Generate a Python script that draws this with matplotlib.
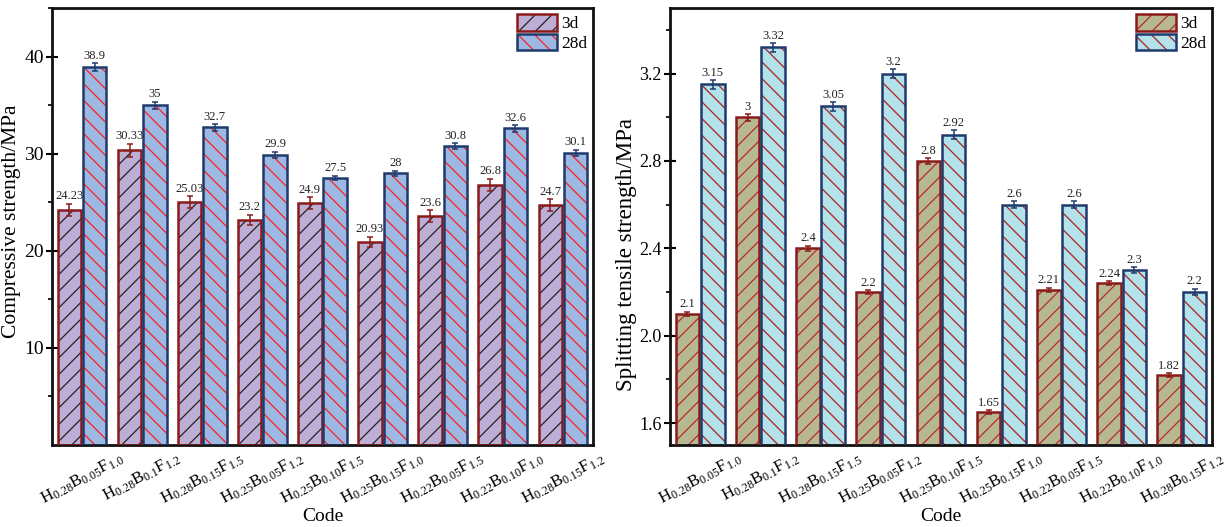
import matplotlib
matplotlib.use("Agg")
import matplotlib.pyplot as plt
from matplotlib.patches import Patch
from matplotlib.legend_handler import HandlerTuple
import numpy as np

plt.rcParams['font.family'] = ['Liberation Serif', 'DejaVu Serif']
plt.rcParams['mathtext.fontset'] = 'custom'
plt.rcParams['mathtext.rm'] = 'Liberation Serif'
plt.rcParams['mathtext.it'] = 'Liberation Serif'
plt.rcParams['mathtext.default'] = 'regular'
plt.rcParams['hatch.linewidth'] = 0.9

codes = [
    "H$_{0.28}$B$_{0.05}$F$_{1.0}$",
    "H$_{0.28}$B$_{0.1}$F$_{1.2}$",
    "H$_{0.28}$B$_{0.15}$F$_{1.5}$",
    "H$_{0.25}$B$_{0.05}$F$_{1.2}$",
    "H$_{0.25}$B$_{0.10}$F$_{1.5}$",
    "H$_{0.25}$B$_{0.15}$F$_{1.0}$",
    "H$_{0.22}$B$_{0.05}$F$_{1.5}$",
    "H$_{0.22}$B$_{0.10}$F$_{1.0}$",
    "H$_{0.28}$B$_{0.15}$F$_{1.2}$",
]

# compressive strength (MPa)
comp_3d = [24.23, 30.33, 25.03, 23.2, 24.9, 20.93, 23.6, 26.8, 24.7]
comp_28d = [38.9, 35, 32.7, 29.9, 27.5, 28, 30.8, 32.6, 30.1]
comp_3d_err = [0.6, 0.7, 0.6, 0.5, 0.6, 0.5, 0.6, 0.6, 0.6]
comp_28d_err = [0.4, 0.35, 0.35, 0.3, 0.25, 0.25, 0.3, 0.35, 0.3]

# splitting tensile strength (MPa)
split_3d = [2.1, 3, 2.4, 2.2, 2.8, 1.65, 2.21, 2.24, 1.82]
split_28d = [3.15, 3.32, 3.05, 3.2, 2.92, 2.6, 2.6, 2.3, 2.2]
split_3d_err = [0.01, 0.015, 0.012, 0.01, 0.012, 0.008, 0.01, 0.01, 0.01]
split_28d_err = [0.02, 0.02, 0.02, 0.02, 0.02, 0.015, 0.015, 0.015, 0.015]

dark_red = '#8b1a1a'
navy = '#1f3b6e'

# (face, outline, hatch colour, hatch)
left_3d = ('#bdaed6', dark_red, '#222222', '//')
left_28d = ('#9db8e2', navy, '#ff2020', '\\\\')
right_3d = ('#b6b891', dark_red, '#b82a2a', '//')
right_28d = ('#b3e2ea', navy, '#b02020', '\\\\')

fig = plt.figure(figsize=(12.25, 5.27), dpi=100)
ax1 = fig.add_axes([52 / 1225, 1 - 445 / 527, (593 - 52) / 1225, (445 - 8) / 527])
ax2 = fig.add_axes([670 / 1225, 1 - 445 / 527, (1212 - 670) / 1225, (445 - 8) / 527])

x = np.arange(len(codes))
w = 0.39
off = 0.21


def bars(ax, pos, vals, errs, style, pad):
    face, edge, hcolor, hatch = style
    # hatch layer, then outline on top
    ax.bar(pos, vals, w, color=face, edgecolor=hcolor, hatch=hatch, linewidth=0, zorder=2)
    ax.bar(pos, vals, w, fill=False, edgecolor=edge, linewidth=1.8, zorder=3)
    ax.errorbar(pos, vals, yerr=errs, fmt='none', ecolor=edge, elinewidth=1.1,
                capsize=2.5, capthick=1.1, zorder=4)
    for p, v, e in zip(pos, vals, errs):
        ax.text(p, v + e + pad, f"{v:g}", ha='center', va='bottom', fontsize=9,
                color='#222222', zorder=5)


def legend_handle(style):
    face, edge, hcolor, hatch = style
    return (Patch(facecolor=face, edgecolor=hcolor, hatch=hatch, linewidth=0),
            Patch(fill=False, edgecolor=edge, linewidth=1.8))


bars(ax1, x - off, comp_3d, comp_3d_err, left_3d, 0.15)
bars(ax1, x + off, comp_28d, comp_28d_err, left_28d, 0.15)
bars(ax2, x - off, split_3d, split_3d_err, right_3d, 0.006)
bars(ax2, x + off, split_28d, split_28d_err, right_28d, 0.006)

ax1.set_ylim(0, 45)
ax1.set_yticks([10, 20, 30, 40])
ax1.set_yticks([5, 15, 25, 35, 45], minor=True)
ax1.set_ylabel('Compressive strength/MPa', fontsize=15.5)
ax1.yaxis.set_label_coords(-0.057, 0.513)
ax1.tick_params(axis='y', labelsize=14)

ax2.set_ylim(1.5, 3.5)
ax2.set_yticks([1.6, 2.0, 2.4, 2.8, 3.2])
ax2.set_yticks([1.8, 2.2, 2.6, 3.0, 3.4], minor=True)
ax2.set_yticklabels(['1.6', '2.0', '2.4', '2.8', '3.2'])
ax2.set_ylabel('Splitting tensile strength/MPa', fontsize=16.5)
ax2.yaxis.set_label_coords(-0.06, 0.435)
ax2.tick_params(axis='y', labelsize=13)

for ax, s3, s28 in [(ax1, left_3d, left_28d), (ax2, right_3d, right_28d)]:
    ax.set_xlim(-0.5, len(codes) - 0.5)
    ax.set_xticks(x)
    ax.set_xticklabels(codes, rotation=28, ha='center', fontsize=12.2)
    ax.set_xlabel('Code', fontsize=14, labelpad=0)
    ax.tick_params(axis='x', direction='in', length=4, width=1.5, pad=3.5)
    ax.tick_params(axis='y', which='major', direction='inout', length=8, width=1.5, pad=2)
    ax.tick_params(axis='y', which='minor', direction='out', length=3, width=1.2)
    for s in ax.spines.values():
        s.set_linewidth(2)
        s.set_color('#111111')
    ax.legend([legend_handle(s3), legend_handle(s28)], ['3d', '28d'],
              handler_map={tuple: HandlerTuple(ndivide=1, pad=0)},
              loc='upper right', frameon=False, fontsize=12.5,
              handlelength=2.3, handleheight=1.1, handletextpad=0.2, labelspacing=0.08,
              borderaxespad=0.15, borderpad=0.2)

fig.savefig('out.png', dpi=100)
